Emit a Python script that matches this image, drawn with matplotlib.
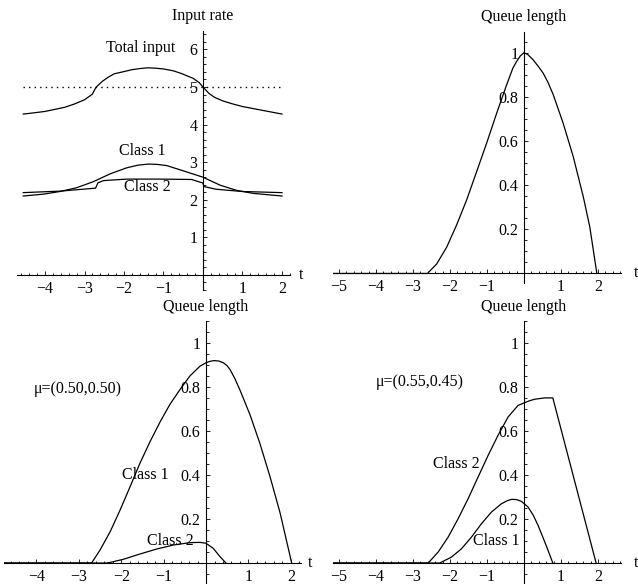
import numpy as np
import matplotlib
matplotlib.use("Agg")
import matplotlib.pyplot as plt
from matplotlib.ticker import MultipleLocator

plt.rcParams['font.family'] = ['Liberation Serif', 'DejaVu Serif']
plt.rcParams['font.size'] = 11.5

# --- panel 1: input rates
t_total = [-4.55, -4.3, -4.0, -3.5, -3.25, -3.0, -2.8, -2.71, -2.55, -2.4, -2.25, -2.0, -1.8,
           -1.6, -1.4, -1.2, -1.0, -0.75, -0.55, -0.25, -0.1, 0.0, 0.15, 0.3, 0.5, 0.75, 1.0,
           1.15, 1.55, 2.0]
total = [4.28, 4.31, 4.35, 4.46, 4.55, 4.66, 4.81, 4.99, 5.15, 5.26, 5.35, 5.41, 5.46,
         5.49, 5.51, 5.50, 5.48, 5.43, 5.36, 5.23, 5.12, 5.0, 4.83, 4.72, 4.63, 4.55, 4.48,
         4.45, 4.37, 4.28]

t_c1 = [-4.55, -4.04, -3.62, -3.2, -2.78, -2.35, -1.93, -1.65, -1.38, -1.15, -0.92, -0.5,
        0.0, 0.43, 0.85, 1.27, 2.0]
class1 = [2.10, 2.15, 2.22, 2.32, 2.48, 2.69, 2.85, 2.92, 2.95, 2.94, 2.91, 2.77,
          2.60, 2.39, 2.25, 2.17, 2.10]

t_c2 = [-4.55, -3.62, -2.82, -2.72, -2.66, -2.52, -1.93, -1.1, -0.29, -0.08, -0.01, 0.03,
        0.33, 1.0, 2.0]
class2 = [2.19, 2.23, 2.30, 2.31, 2.45, 2.51, 2.55, 2.55, 2.54, 2.47, 2.45, 2.35,
          2.28, 2.22, 2.19]
service_rate = 5.0

# --- panel 2: total queue
t_q = [-5.16, -2.61, -2.36, -2.09, -1.82, -1.55, -1.28, -1.01, -0.74, -0.47, -0.3, -0.2,
       -0.1, 0.0, 0.1, 0.25, 0.4, 0.52, 0.65, 0.79, 1.06, 1.33, 1.6, 1.78, 1.97]
queue = [0, 0, 0.043, 0.119, 0.22, 0.333, 0.461, 0.59, 0.725, 0.854, 0.93, 0.96,
         0.985, 1.0, 0.992, 0.967, 0.935, 0.907, 0.865, 0.81, 0.68, 0.53, 0.35, 0.21, 0]

# --- panel 3: mu=(0.50,0.50)
t_a1 = [-4.76, -2.70, -2.5, -2.26, -2.03, -1.79, -1.56, -1.32, -1.08, -0.85, -0.61, -0.38,
        -0.14, 0.0, 0.08, 0.19, 0.3, 0.41, 0.5, 0.57, 0.68, 0.80, 1.04, 1.27, 1.51, 1.75, 2.02]
q_a1 = [0, 0, 0.059, 0.143, 0.24, 0.348, 0.454, 0.553, 0.644, 0.723, 0.791, 0.852,
        0.897, 0.912, 0.918, 0.922, 0.92, 0.912, 0.898, 0.88, 0.84, 0.788, 0.674, 0.545,
        0.393, 0.226, 0]
t_a2 = [-4.76, -2.35, -2.26, -1.95, -1.56, -1.16, -0.77, -0.38, -0.14, 0.0, 0.17, 0.33, 0.47]
q_a2 = [0, 0, 0.003, 0.017, 0.041, 0.064, 0.082, 0.093, 0.094, 0.09, 0.067, 0.029, 0]

# --- panel 4: mu=(0.55,0.45)
t_b2 = [-5.16, -2.59, -2.32, -2.05, -1.78, -1.51, -1.24, -0.97, -0.70, -0.43, -0.16, 0.0,
        0.15, 0.29, 0.56, 0.78, 1.95]
q_b2 = [0, 0, 0.05, 0.118, 0.202, 0.293, 0.392, 0.49, 0.582, 0.665, 0.718, 0.729,
        0.739, 0.746, 0.752, 0.752, 0]
t_b1 = [-5.16, -2.28, -1.96, -1.69, -1.42, -1.15, -0.88, -0.61, -0.45, -0.34, -0.2,
        -0.07, 0.11, 0.25, 0.38, 0.6, 0.78]
q_b1 = [0, 0, 0.027, 0.065, 0.118, 0.179, 0.232, 0.27, 0.284, 0.29, 0.289,
        0.281, 0.255, 0.218, 0.172, 0.08, 0]

W, H = 638, 584


def rect(l, t, r, b):
    return [l / W, (H - b) / H, (r - l) / W, (b - t) / H]


def setup(ax, xlim, ylim, xt, yt, ylabels, ymin_step, title, tpos):
    ax.set_xlim(xlim)
    ax.set_ylim(ylim)
    for s in ['top', 'right']:
        ax.spines[s].set_visible(False)
    for s in ['left', 'bottom']:
        ax.spines[s].set_position(('data', 0))
        ax.spines[s].set_linewidth(0.8)
    ax.set_xticks(xt)
    ax.set_xticklabels([str(v).replace('-', '\u2212') for v in xt])
    ax.set_yticks(yt)
    ax.set_yticklabels(ylabels)
    ax.xaxis.set_minor_locator(MultipleLocator(0.2))
    ax.yaxis.set_minor_locator(MultipleLocator(ymin_step))
    ax.tick_params(which='both', direction='in', width=0.6, labelsize=11.5, pad=4)
    ax.tick_params(which='major', length=3)
    ax.tick_params(which='minor', length=1.8)
    ax.patch.set_visible(False)
    ax.annotate(title, (0, ylim[1]), xytext=(0, 5), textcoords='offset points',
                ha='center', va='bottom', annotation_clip=False)
    ax.text(tpos, 0, 't', ha='center', va='center', clip_on=False)


fig = plt.figure(figsize=(W / 100, H / 100), dpi=100)
lw = 0.9

ax1 = fig.add_axes(rect(17.35, 30.6, 289.9, 290))
setup(ax1, (-4.7, 2.2), (-0.4, 6.5), [-4, -3, -2, -1, 1, 2], [1, 2, 3, 4, 5, 6],
      ['1', '2', '3', '4', '5', '6'], 0.2, 'Input rate', 2.48)
ax1.plot(t_total, total, color='black', lw=lw)
ax1.plot(t_c1, class1, color='black', lw=lw)
ax1.plot(t_c2, class2, color='black', lw=lw)
ax1.plot([t_total[0], t_total[-1]], [service_rate, service_rate], color='black',
         lw=1.0, linestyle=(0, (1, 3)))
ax1.text(-1.59, 6.03, 'Total input', ha='center', va='center')
ax1.text(-1.53, 3.31, 'Class 1', ha='center', va='center')
ax1.text(-1.40, 2.33, 'Class 2', ha='center', va='center')

qticks = [0.2, 0.4, 0.6, 0.8, 1]
qlabels = ['0.2', '0.4', '0.6', '0.8', '1']

ax2 = fig.add_axes(rect(333.1, 31.7, 620.9, 283.4))
setup(ax2, (-5.16, 2.62), (-0.045, 1.095), [-5, -4, -3, -2, -1, 1, 2], qticks, qlabels,
      0.05, 'Queue length', 3.03)
ax2.plot(t_q, queue, color='black', lw=lw)

ax3 = fig.add_axes(rect(4.2, 321.5, 301, 583.9))
setup(ax3, (-4.76, 2.24), (-0.095, 1.10), [-4, -3, -2, -1, 1, 2], qticks, qlabels,
      0.05, 'Queue length', 2.45)
ax3.plot(t_a1, q_a1, color='black', lw=lw)
ax3.plot(t_a2, q_a2, color='black', lw=lw)
ax3.text(-3.02, 0.794, '\u03bc=(0.50,0.50)', ha='center', va='center')
ax3.text(-1.44, 0.402, 'Class 1', ha='center', va='center')
ax3.text(-0.85, 0.10, 'Class 2', ha='center', va='center')

ax4 = fig.add_axes(rect(333.1, 321.5, 620.9, 583.9))
setup(ax4, (-5.16, 2.62), (-0.095, 1.10), [-5, -4, -3, -2, -1, 1, 2], qticks, qlabels,
      0.05, 'Queue length', 3.03)
ax4.plot(t_b2, q_b2, color='black', lw=lw)
ax4.plot(t_b1, q_b1, color='black', lw=lw)
ax4.text(-2.82, 0.825, '\u03bc=(0.55,0.45)', ha='center', va='center')
ax4.text(-1.83, 0.452, 'Class 2', ha='center', va='center')
ax4.text(-0.75, 0.099, 'Class 1', ha='center', va='center')

fig.savefig('out.png', dpi=100)
